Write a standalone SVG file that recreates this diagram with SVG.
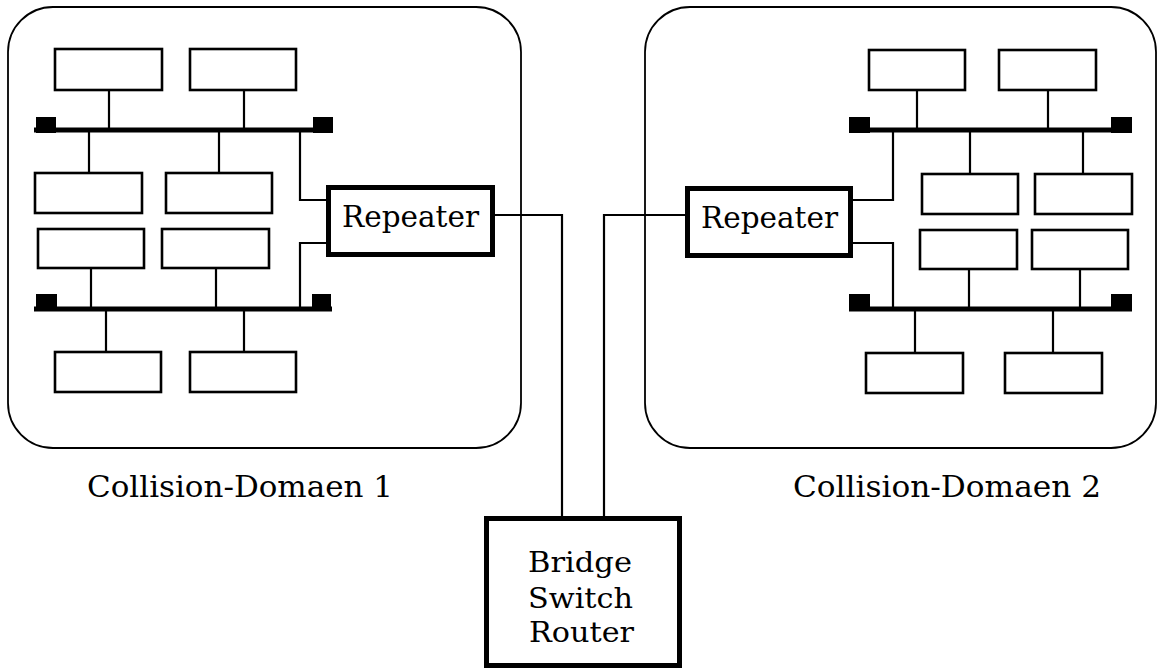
<svg xmlns="http://www.w3.org/2000/svg" width="1161" height="669" viewBox="0 0 1161 669">
  <style>
    .dom { fill: none; stroke: #000; stroke-width: 1.8; }
    .box { fill: #fff; stroke: #000; stroke-width: 2.6; }
    .bus { stroke: #000; stroke-width: 5; }
    .term { fill: #000; }
    .wire { fill: none; stroke: #000; stroke-width: 2.2; }
    .dev { fill: #fff; stroke: #000; stroke-width: 5; }
    .lbl { font-family: "DejaVu Serif", "Liberation Serif", serif; fill: #000; }
  </style>
  <rect width="1161" height="669" fill="#fff"/>

  <!-- collision domain 1 -->
  <g id="domain1">
    <rect class="dom" x="8" y="7" width="513" height="441" rx="45" ry="45"/>
    <!-- drop cables -->
    <path class="wire" d="M109 90V130 M244 90V130 M89 130V172 M219 130V172 M91 269V309 M216 269V309 M106 309V351 M244 309V351"/>
    <!-- upper segment -->
    <line class="bus" x1="34" y1="130" x2="332" y2="130"/>
    <rect class="term" x="36" y="117" width="20" height="16"/>
    <rect class="term" x="313" y="117" width="20" height="16"/>
    <!-- lower segment -->
    <line class="bus" x1="34" y1="309" x2="332" y2="309"/>
    <rect class="term" x="36" y="294" width="21" height="16"/>
    <rect class="term" x="312" y="294" width="19" height="16"/>
    <!-- stations -->
    <rect class="box" x="55" y="49" width="107" height="41"/>
    <rect class="box" x="190" y="49" width="106" height="41"/>
    <rect class="box" x="35" y="173" width="107" height="40"/>
    <rect class="box" x="166" y="173" width="106" height="40"/>
    <rect class="box" x="38" y="229" width="106" height="39"/>
    <rect class="box" x="162" y="229" width="107" height="39"/>
    <rect class="box" x="55" y="352" width="106" height="40"/>
    <rect class="box" x="190" y="352" width="106" height="40"/>
    <text class="lbl" x="87" y="497" font-size="30" textLength="306" lengthAdjust="spacingAndGlyphs">Collision-Domaen 1</text>
  </g>

  <!-- collision domain 2 -->
  <g id="domain2">
    <rect class="dom" x="645" y="7" width="511" height="441" rx="45" ry="45"/>
    <path class="wire" d="M917 91V130 M1048 91V130 M970 130V173 M1083 130V173 M969 270V309 M1080 270V309 M915 309V352 M1053 309V352"/>
    <line class="bus" x1="849" y1="130" x2="1132" y2="130"/>
    <rect class="term" x="849" y="117" width="21" height="16"/>
    <rect class="term" x="1111" y="117" width="21" height="16"/>
    <line class="bus" x1="849" y1="309" x2="1132" y2="309"/>
    <rect class="term" x="849" y="294" width="21" height="16"/>
    <rect class="term" x="1111" y="294" width="21" height="16"/>
    <rect class="box" x="869" y="50" width="96" height="40"/>
    <rect class="box" x="999" y="50" width="97" height="40"/>
    <rect class="box" x="922" y="174" width="96" height="40"/>
    <rect class="box" x="1035" y="174" width="97" height="40"/>
    <rect class="box" x="920" y="230" width="97" height="39"/>
    <rect class="box" x="1032" y="230" width="96" height="39"/>
    <rect class="box" x="866" y="353" width="97" height="40"/>
    <rect class="box" x="1005" y="353" width="97" height="40"/>
    <text class="lbl" x="793" y="497" font-size="30" textLength="308" lengthAdjust="spacingAndGlyphs">Collision-Domaen 2</text>
  </g>

  <!-- links between repeaters, segments and the bridge -->
  <g id="connectors">
    <polyline class="wire" points="300,130 300,200 328,200"/>
    <polyline class="wire" points="328,243 300,243 300,309"/>
    <polyline class="wire" points="853,200 893,200 893,130"/>
    <polyline class="wire" points="853,243 893,243 893,309"/>
    <polyline class="wire" points="493,215 562,215 562,518"/>
    <polyline class="wire" points="687,215 604,215 604,518"/>
  </g>

  <g id="repeater1">
    <rect class="dev" x="328.5" y="187.5" width="164" height="67"/>
    <text class="lbl" x="342" y="227" font-size="29" textLength="137" lengthAdjust="spacingAndGlyphs">Repeater</text>
  </g>

  <g id="repeater2">
    <rect class="dev" x="687.5" y="188.5" width="163" height="67"/>
    <text class="lbl" x="701" y="228" font-size="29" textLength="137" lengthAdjust="spacingAndGlyphs">Repeater</text>
  </g>

  <g id="bridge">
    <rect class="dev" x="486.5" y="518.5" width="193" height="147"/>
    <text class="lbl" x="528" y="572" font-size="27" textLength="104" lengthAdjust="spacingAndGlyphs">Bridge</text>
    <text class="lbl" x="528" y="608" font-size="27" textLength="105" lengthAdjust="spacingAndGlyphs">Switch</text>
    <text class="lbl" x="529" y="642" font-size="27" textLength="105" lengthAdjust="spacingAndGlyphs">Router</text>
  </g>
</svg>
